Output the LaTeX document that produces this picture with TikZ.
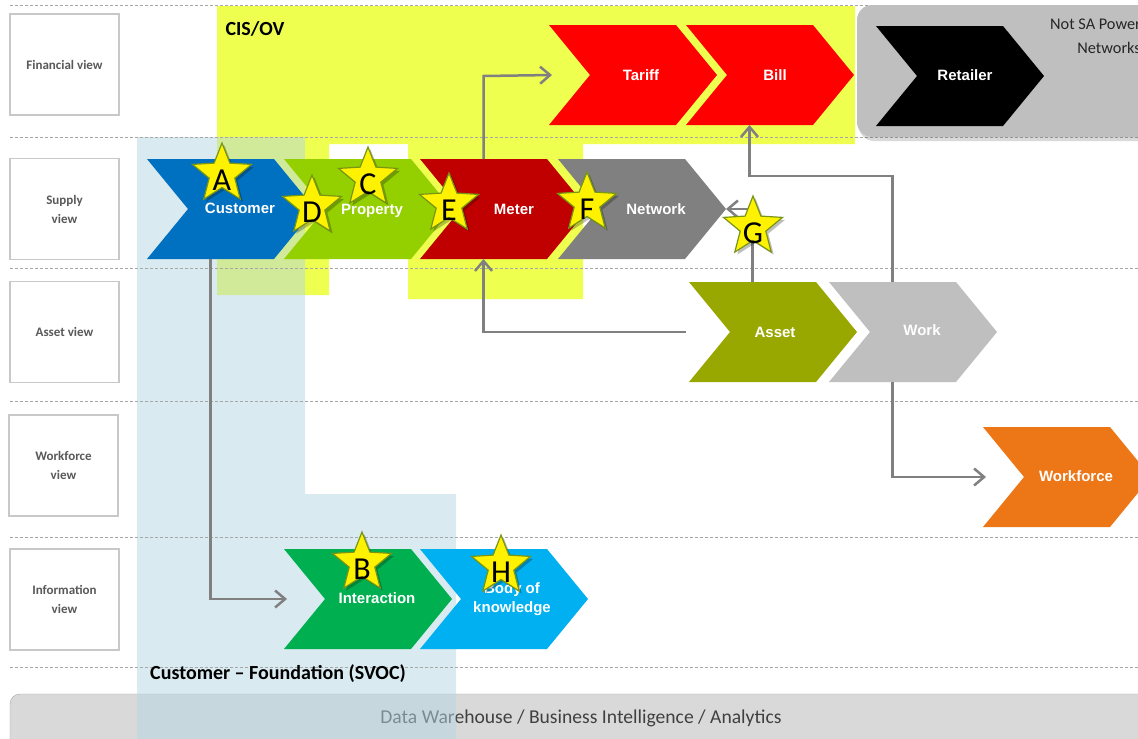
\documentclass[tikz,border=0pt]{standalone}
\usepackage{fontspec}
\setmainfont{Carlito}
\newfontfamily\chevfont{Liberation Sans}
\usetikzlibrary{shapes.geometric,arrows.meta,calc}

\definecolor{cisyellow}{RGB}{239,255,79}
\definecolor{svocblue}{RGB}{181,215,227}
\definecolor{linegray}{RGB}{128,128,128}
\definecolor{labelgray}{RGB}{89,89,89}
\definecolor{boxline}{RGB}{200,200,200}
\definecolor{dashgray}{RGB}{166,166,166}
\definecolor{cCustomer}{RGB}{0,112,192}
\definecolor{cProperty}{RGB}{148,208,0}
\definecolor{cMeter}{RGB}{192,0,0}
\definecolor{cNetwork}{RGB}{128,128,128}
\definecolor{cRed}{RGB}{255,0,0}
\definecolor{cAsset}{RGB}{153,168,0}
\definecolor{cWork}{RGB}{191,191,191}
\definecolor{cWorkforce}{RGB}{237,118,22}
\definecolor{cInteraction}{RGB}{0,176,80}
\definecolor{cKnowledge}{RGB}{0,176,240}
\definecolor{starline}{RGB}{120,150,20}
\definecolor{notsa}{RGB}{191,191,191}
\definecolor{dwbar}{RGB}{217,217,217}
\definecolor{dwtext}{RGB}{64,64,64}

% chevron: name, left x, top y, colour, label, label x, label y
\newcommand\chevron[7]{%
  \fill[#4] (#2,#3) -- ++(127,0) -- ++(41,50) -- ++(-41,50) -- ++(-127,0) -- ++(41,-50) -- cycle;
  \node[chevtext] (#1) at (#6,#7) {#5};
  \coordinate (#1-n) at (#2+63.5,#3);
  \coordinate (#1-s) at (#2+63.5,#3+100);
  \coordinate (#1-e) at (#2+168,#3+50);
  \coordinate (#1-in) at (#2+3,#3+50);
}
% star marker: name, centre x, centre y, letter
\newcommand\marker[4]{%
  \node[starbody, fill=black, draw=none, opacity=.25] (#1-shadow) at (#2+2.5,#3+2.5) {};
  \node[starbody] (#1) at (#2,#3) {};
  \node[starletter] (#1-letter) at (#2,#3+6) {#4};
}

\begin{document}
\begin{tikzpicture}[x=1pt,y=-1pt,
  chevtext/.style={font=\chevfont\bfseries\fontsize{15}{19}\selectfont, text=white, align=center, inner sep=0},
  viewbox/.style={draw=boxline, line width=1.5, fill=white, minimum width=109, minimum height=101,
    font=\bfseries\fontsize{13}{19}\selectfont, text=labelgray, align=center},
  flow/.style={draw=linegray, line width=2.5, -{Straight Barb[length=10pt, width=17pt]}},
  lane/.style={draw=dashgray, line width=1, dash pattern=on 3pt off 2pt},
  starbody/.style={star, star points=5, star point ratio=2.3, minimum size=62, inner sep=0,
    fill=yellow, draw=starline, line width=1.2},
  starletter/.style={font=\fontsize{32}{32}\selectfont, text=black, inner sep=0},
]
\path[use as bounding box] (0,0) rectangle (1138,739);
\clip (0,0) rectangle (1138,739);
\fill[white] (0,0) rectangle (1138,739);

% CIS/OV zone
\fill[cisyellow] (217,6) -- (855,6) -- (855,144) -- (583,144) -- (583,299) -- (408,299)
  -- (408,144) -- (329,144) -- (329,295) -- (217,295) -- cycle;

% data warehouse bar
\draw[draw=dashgray, fill=dwbar, rounded corners=10] (10,694) rectangle (1170,770);
\node[font=\fontsize{19.6}{21}\selectfont, text=dwtext] (dw) at (581,718)
  {Data Warehouse / Business Intelligence / Analytics};

% single view of customer zone
\fill[svocblue, opacity=.5] (137,137) -- (305,137) -- (305,494) -- (456,494) -- (456,739) -- (137,739) -- cycle;

% lane separators
\foreach \y in {5,137,268,401,537,667}
  \draw[lane] (10,\y) -- (1138,\y);

% view labels
\node[viewbox] (vfin) at (64.5,64.5) {Financial view};
\node[viewbox] (vsup) at (64.5,209) {Supply\\view};
\node[viewbox] (vass) at (64.5,332) {Asset view};
\node[viewbox] (vwf) at (63.5,465.5) {Workforce\\view};
\node[viewbox] (vinf) at (64.5,599.5) {Information\\view};

% outside-organisation zone
\fill[black, opacity=.15, rounded corners=15] (859,8) rectangle (1175,141);
\fill[notsa, rounded corners=15] (857,5) rectangle (1175,137);
\node[anchor=north east, align=right, inner sep=0, font=\fontsize{16.3}{24}\selectfont, text=black!85] (notsa)
  at (1141,19) {Not SA Power\\Networks};

% process chevrons
\chevron{customer}{147}{159}{cCustomer}{Customer}{240}{208}
\chevron{property}{284}{159}{cProperty}{Property}{372}{211}
\chevron{meter}{420}{159}{cMeter}{Meter}{514}{209}
\chevron{network}{558}{159}{cNetwork}{Network}{656}{209}
\chevron{tariff}{549}{25}{cRed}{Tariff}{641}{75}
\chevron{bill}{686}{25}{cRed}{Bill}{775}{75}
\chevron{retailer}{876}{26}{black}{Retailer}{965}{75}
\chevron{asset}{689}{282}{cAsset}{Asset}{775}{332}
\chevron{work}{829}{282}{cWork}{Work}{922}{330}
\chevron{workforce}{983}{427}{cWorkforce}{Workforce}{1076}{476}
\chevron{interaction}{284}{549}{cInteraction}{Interaction}{377}{598}
\chevron{knowledge}{420}{549}{cKnowledge}{Body of\\knowledge}{512}{599}

% zone titles
\node[font=\bfseries\fontsize{20}{22}\selectfont] (cis) at (255,29) {CIS/OV};
\node[font=\bfseries\fontsize{20}{22}\selectfont] (svoc) at (278,674) {Customer -- Foundation (SVOC)};

% flows
\coordinate (tariffrow) at (0,76);
\coordinate (billrow) at (0,176);
\draw[flow] (meter-n) -- (meter-n |- tariffrow) -- (tariff-in);
\draw[flow] ($(asset-in)+(-6,0)$) -| (meter-s);
\draw[flow] (asset-n) |- (network-e);
\draw[flow] (work-n) -- (work-n |- billrow) -| (bill-s);
\draw[flow] (work-s) |- (workforce-in);
\draw[flow] (customer-s) |- (interaction-in);

% markers
\marker{sA}{222}{174}{A}
\marker{sC}{368}{178}{C}
\marker{sD}{312}{206}{D}
\marker{sE}{449}{204}{E}
\marker{sF}{587}{203}{F}
\marker{sG}{753}{227}{G}
\marker{sB}{362}{563}{B}
\marker{sH}{501}{566}{H}
\end{tikzpicture}
\end{document}
